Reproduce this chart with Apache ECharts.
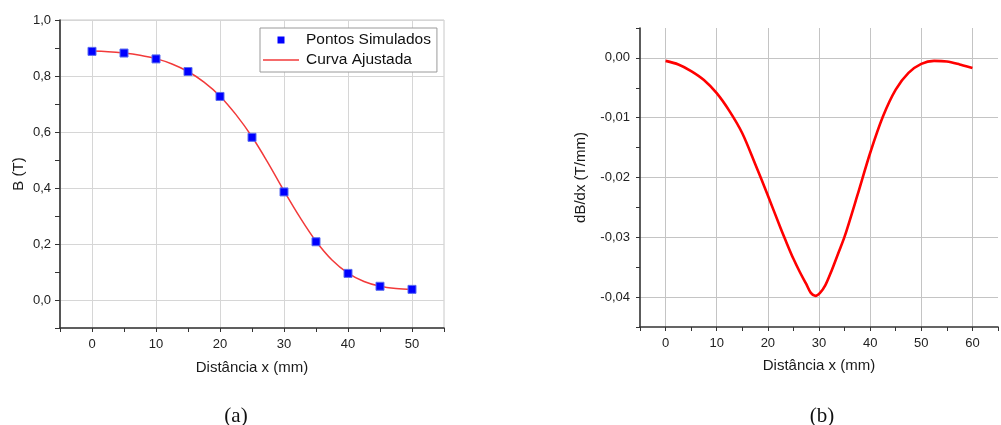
<!DOCTYPE html>
<html>
<head>
<meta charset="utf-8">
<script src="https://cdn.jsdelivr.net/npm/echarts@6/dist/echarts.min.js"></script>
<style>
  html, body { margin: 0; padding: 0; background: #ffffff; }
  #chart { width: 1001px; height: 425px; }
</style>
</head>
<body>
<div id="chart"></div>
<script>
// (a) simulated field B (T) along the axis, and the fitted curve
const distSim = [0, 5, 10, 15, 20, 25, 30, 35, 40, 45, 50];
const bSim = [0.888, 0.882, 0.861, 0.816, 0.727, 0.581, 0.386, 0.208, 0.095, 0.049, 0.038];
const distFit = [0, 2.5, 5, 7.5, 10, 12.5, 15, 17.5, 20, 22.5, 25, 27.5, 30, 32.5, 35, 37.5, 40, 42.5, 45, 47.5, 50];
const bFit = [0.889, 0.887, 0.882, 0.874, 0.862, 0.843, 0.816, 0.778, 0.728, 0.662, 0.583, 0.49, 0.39, 0.295, 0.21, 0.143, 0.096, 0.066, 0.049, 0.041, 0.038];

// (b) derivative dB/dx (T/mm), sampled more densely around the minimum
const distDeriv = [0, 2.5, 5, 7.5, 10, 12.5, 15, 17.5, 20, 22.5, 23.75, 25, 26.25, 27.5, 28.4, 29.3, 30.2, 31.25, 32.5, 33.75, 35, 37.5, 40, 42.5, 45, 47.5, 50, 52.5, 55, 57.5, 60];
const dBdx = [-0.0005, -0.0011, -0.0022, -0.0037, -0.0059, -0.0089, -0.0126, -0.0177, -0.0230, -0.0285, -0.0311, -0.0336, -0.0358, -0.0378, -0.0393, -0.0398, -0.0393, -0.0380, -0.0355, -0.0327, -0.0299, -0.0230, -0.0159, -0.0098, -0.0053, -0.0025, -0.0010, -0.0005, -0.0006, -0.0011, -0.0017];

// texts
const legendNames = ['Pontos Simulados', 'Curva Ajustada'];
const xTitle = 'Distância x (mm)';
const yTitleA = 'B (T)';
const yTitleB = 'dB/dx (T/mm)';
const captions = ['(a)', '(b)'];

const SANS = '"Liberation Sans", Arial, Helvetica, sans-serif';
const SERIF = '"Liberation Serif", "DejaVu Serif", serif';

const pairs = (xs, ys) => xs.map((x, i) => [x, ys[i]]);
const comma = (v, d) => v.toFixed(d).replace('.', ',');

const chart = echarts.init(document.getElementById('chart'), null, { renderer: 'canvas' });

const axisBase = {
  type: 'value',
  nameLocation: 'middle',
  nameTextStyle: { fontFamily: SANS, fontSize: 15, color: '#1a1a1a' },
  axisLine: { show: true, onZero: false, lineStyle: { color: '#333333', width: 1.6 } },
  axisTick: { show: true, inside: false, length: 4, lineStyle: { color: '#333333', width: 1 } },
  axisLabel: { fontFamily: SANS, fontSize: 13, color: '#222222' }
};

chart.setOption({
  backgroundColor: '#ffffff',
  animation: false,
  title: [
    { text: captions[0], left: 231, top: 401, textAlign: 'center',
      textStyle: { fontFamily: SERIF, fontSize: 21, fontWeight: 'normal', color: '#111' } },
    { text: captions[1], left: 817, top: 401, textAlign: 'center',
      textStyle: { fontFamily: SERIF, fontSize: 21, fontWeight: 'normal', color: '#111' } }
  ],
  legend: {
    data: [
      { name: legendNames[0], icon: 'path://M0,0h10v10h-10z', itemStyle: { borderWidth: 0 } },
      { name: legendNames[1], icon: 'path://M0,0h36v1.5h-36z' }
    ],
    orient: 'vertical',
    left: 260,
    top: 28,
    itemWidth: 36,
    itemHeight: 7,
    itemGap: 4,
    padding: [4, 6, 4, 3],
    backgroundColor: '#ffffff',
    borderColor: '#9a9a9a',
    borderWidth: 1,
    borderRadius: 0,
    textStyle: { fontFamily: SANS, fontSize: 15.5, color: '#111111', padding: [0, 0, 0, 2] }
  },
  grid: [
    { left: 60, right: 557, top: 20, bottom: 97, show: true, borderColor: '#c8c8c8', borderWidth: 1, backgroundColor: 'transparent' },
    { left: 640, right: -10, top: 28, bottom: 98 }
  ],
  xAxis: [
    Object.assign({}, axisBase, {
      gridIndex: 0, min: -5, max: 55, interval: 5,
      name: xTitle, nameGap: 32,
      axisLabel: Object.assign({}, axisBase.axisLabel, {
        margin: 10,
        formatter: v => (Math.round(v) % 10 === 0 ? String(Math.round(v)) : '')
      }),
      splitLine: { show: true, lineStyle: { color: ['transparent', '#d6d6d6'], width: 1 } }
    }),
    Object.assign({}, axisBase, {
      gridIndex: 1, min: -5, max: 65, interval: 5,
      name: xTitle, nameGap: 31,
      axisLabel: Object.assign({}, axisBase.axisLabel, {
        margin: 10,
        formatter: v => (Math.round(v) % 10 === 0 ? String(Math.round(v)) : '')
      }),
      splitLine: { show: true, lineStyle: { color: ['transparent', '#c4c4c4'], width: 1 } }
    })
  ],
  yAxis: [
    Object.assign({}, axisBase, {
      gridIndex: 0, min: -0.1, max: 1.0, interval: 0.1,
      name: yTitleA, nameGap: 34,
      axisTick: Object.assign({}, axisBase.axisTick, { length: 5 }),
      axisLabel: Object.assign({}, axisBase.axisLabel, {
        margin: 9,
        formatter: v => (Math.round(v * 10) % 2 === 0 ? comma(v, 1) : '')
      }),
      splitLine: { show: true, lineStyle: { color: ['transparent', '#d6d6d6'], width: 1 } }
    }),
    Object.assign({}, axisBase, {
      gridIndex: 1, min: -0.045, max: 0.005, interval: 0.005,
      name: yTitleB, nameGap: 52,
      axisLabel: Object.assign({}, axisBase.axisLabel, {
        margin: 10,
        formatter: v => (Math.round(v * 1000) % 10 === 0 ? comma(v, 2) : '')
      }),
      splitLine: { show: true, lineStyle: { color: ['transparent', '#c4c4c4'], width: 1 } }
    })
  ],
  series: [
    {
      name: legendNames[1],
      type: 'line',
      xAxisIndex: 0, yAxisIndex: 0,
      data: pairs(distFit, bFit),
      smooth: 0.35,
      symbol: 'none',
      lineStyle: { color: '#f23a3a', width: 1.5 },
      itemStyle: { color: '#f23a3a' },
      z: 2
    },
    {
      name: legendNames[0],
      type: 'scatter',
      xAxisIndex: 0, yAxisIndex: 0,
      data: pairs(distSim, bSim),
      symbol: 'rect',
      symbolSize: 8,
      itemStyle: { color: '#0000ff', borderColor: '#5a6cf0', borderWidth: 1, opacity: 1 },
      z: 3
    },
    {
      name: 'dB/dx',
      type: 'line',
      xAxisIndex: 1, yAxisIndex: 1,
      data: pairs(distDeriv, dBdx),
      smooth: 0.3,
      symbol: 'none',
      lineStyle: { color: '#ff0000', width: 2.6 },
      z: 2
    }
  ]
});
</script>
</body>
</html>
